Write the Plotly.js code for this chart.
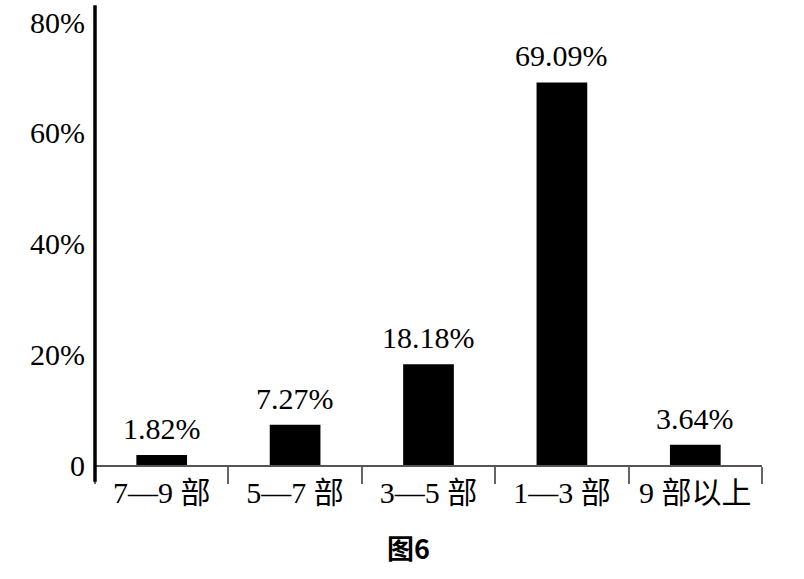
<!DOCTYPE html>
<html>
<head>
<meta charset="utf-8">
<script src="https://cdn.plot.ly/plotly-3.0.1.min.js"></script>
<style>html,body{margin:0;padding:0;background:#fff;}#chart{width:804px;height:579px;}</style>
</head>
<body>
<div id="chart"></div>
<script>
const categories = ["7—9 部", "5—7 部", "3—5 部", "1—3 部", "9 部以上"];
const values = [1.82, 7.27, 18.18, 69.09, 3.64];
const valueLabels = ["1.82%", "7.27%", "18.18%", "69.09%", "3.64%"];
const yTickVals = [0, 20, 40, 60, 80];
const yTickText = ["0", "20%", "40%", "60%", "80%"];
const figTitle = "图6";

const FONT = "'Liberation Serif', 'Noto Sans CJK SC', serif";

const trace = {
  type: "bar",
  x: categories,
  y: values,
  marker: {color: "#000000", line: {width: 0}},
  hoverinfo: "none"
};

const annotations = categories.map((c, i) => ({
  x: c, y: values[i], xref: "x", yref: "y",
  text: valueLabels[i], showarrow: false,
  yanchor: "bottom", yshift: 8,
  font: {family: FONT, size: 30, color: "#000"}
}));
annotations.push({
  x: 0.47, y: -0.187, xref: "paper", yref: "paper",
  text: "<b>" + figTitle + "</b>", showarrow: false,
  xanchor: "center", yanchor: "middle",
  font: {family: "'Noto Sans CJK SC', sans-serif", size: 27, color: "#000"}
});

const layout = {
  width: 804, height: 579,
  margin: {l: 95, r: 42, t: 22, b: 114},
  paper_bgcolor: "#fff", plot_bgcolor: "#fff",
  bargap: 0.62,
  showlegend: false,
  font: {family: FONT, color: "#000"},
  xaxis: {
    type: "category",
    showline: true, linecolor: "#555", linewidth: 2,
    ticks: "outside", tickson: "boundaries", ticklen: 17, tickwidth: 2, tickcolor: "#666",
    showgrid: false, zeroline: false,
    tickfont: {family: FONT, size: 30, color: "#000"},
    fixedrange: true
  },
  yaxis: {
    range: [0, 80],
    tickvals: yTickVals, ticktext: yTickText,
    ticks: "", showgrid: false, zeroline: false, showline: false,
    ticklabelstandoff: 9,
    tickfont: {family: FONT, size: 30, color: "#000"},
    fixedrange: true
  },
  shapes: [{
    type: "line", xref: "paper", yref: "paper",
    x0: 0, x1: 0, y0: -0.038, y1: 1.038,
    line: {color: "#000", width: 3.5}
  }],
  annotations: annotations
};

Plotly.newPlot("chart", [trace], layout, {displayModeBar: false, staticPlot: true});
</script>
</body>
</html>
